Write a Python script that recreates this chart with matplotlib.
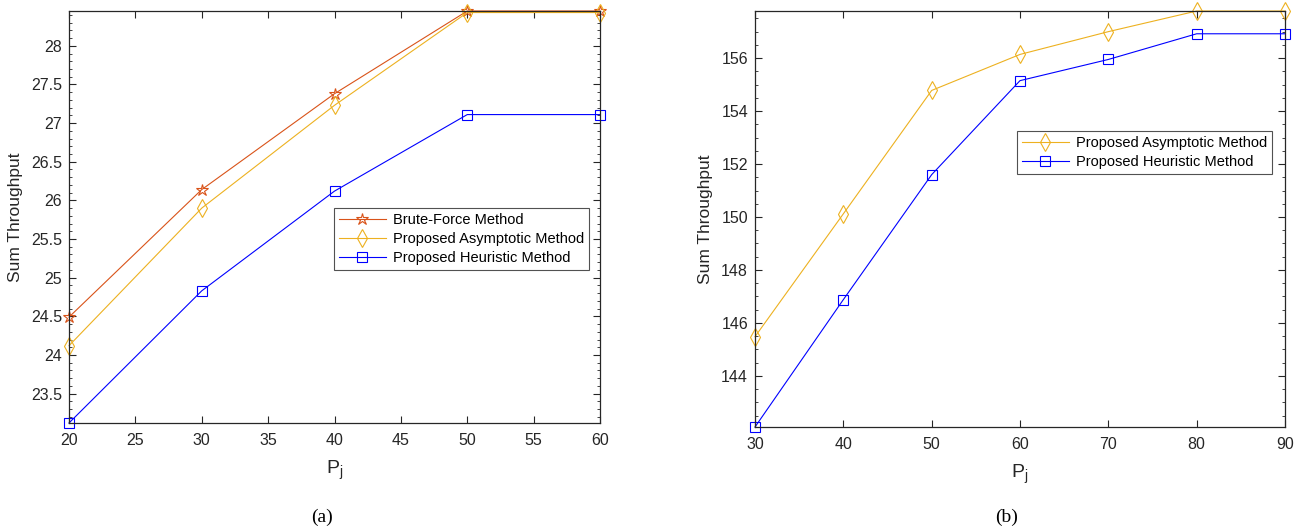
import matplotlib
matplotlib.use("Agg")
import matplotlib.pyplot as plt
from matplotlib.ticker import MultipleLocator, FormatStrFormatter

# (a) sum throughput vs P_j
pj_a = [20, 30, 40, 50, 60]
brute_a = [24.49, 26.14, 27.38, 28.45, 28.45]
asym_a = [24.12, 25.90, 27.23, 28.43, 28.43]
heur_a = [23.12, 24.83, 26.12, 27.11, 27.11]

# (b) sum throughput vs P_j
pj_b = [30, 40, 50, 60, 70, 80, 90]
asym_b = [145.48, 150.12, 154.78, 156.14, 157.00, 157.78, 157.78]
heur_b = [142.07, 146.88, 151.60, 155.15, 155.95, 156.92, 156.92]

C_BRUTE = "#D95319"
C_ASYM = "#EDB120"
C_HEUR = "#0000FF"
AX_COL = "#262626"

plt.rcParams["font.family"] = ["Liberation Sans", "DejaVu Sans"]
plt.rcParams["mathtext.fontset"] = "custom"
plt.rcParams["mathtext.rm"] = "Liberation Sans"

W, H = 1303, 529
fig = plt.figure(figsize=(W / 100, H / 100), dpi=100)


def box(l, t, r, b):
    return [l / W, 1 - b / H, (r - l) / W, (b - t) / H]


ax1 = fig.add_axes(box(69, 11, 600, 423))
ax2 = fig.add_axes(box(755, 11, 1285, 427))

style = dict(lw=0.8, mfc="none", mew=0.8, clip_on=False)

ax1.plot(pj_a, brute_a, color=C_BRUTE, marker="*", ms=9, mec=C_BRUTE,
         label="Brute-Force Method", **style)
ax1.plot(pj_a, asym_a, color=C_ASYM, marker="d", ms=9, mec=C_ASYM,
         label="Proposed Asymptotic Method", **style)
ax1.plot(pj_a, heur_a, color=C_HEUR, marker="s", ms=6.5, mec=C_HEUR,
         label="Proposed Heuristic Method", **style)

ax2.plot(pj_b, asym_b, color=C_ASYM, marker="d", ms=9, mec=C_ASYM,
         label="Proposed Asymptotic Method", **style)
ax2.plot(pj_b, heur_b, color=C_HEUR, marker="s", ms=6.5, mec=C_HEUR,
         label="Proposed Heuristic Method", **style)

ax1.set_xlim(min(pj_a), max(pj_a))
ax1.set_ylim(min(heur_a), max(brute_a))
ax1.xaxis.set_major_locator(MultipleLocator(5))
ax1.yaxis.set_major_locator(MultipleLocator(0.5))
ax1.yaxis.set_minor_locator(MultipleLocator(0.1))
ax1.yaxis.set_major_formatter(FormatStrFormatter("%g"))

ax2.set_xlim(min(pj_b), max(pj_b))
ax2.set_ylim(min(heur_b), max(asym_b))
ax2.xaxis.set_major_locator(MultipleLocator(10))
ax2.yaxis.set_major_locator(MultipleLocator(2))
ax2.yaxis.set_minor_locator(MultipleLocator(0.5))
ax2.yaxis.set_major_formatter(FormatStrFormatter("%g"))

for ax in (ax1, ax2):
    ax.tick_params(which="both", direction="in", top=True, right=True,
                   colors=AX_COL, labelsize=11.5, labelcolor=AX_COL)
    ax.tick_params(which="major", length=5, width=0.8)
    ax.tick_params(which="minor", length=2.5, width=0.6)
    ax.tick_params(axis="x", pad=7)
    ax.tick_params(axis="y", pad=5)
    for s in ax.spines.values():
        s.set_color(AX_COL)
        s.set_linewidth(0.9)
    ax.set_xlabel(r"$\mathrm{P_j}$", fontsize=14, color=AX_COL, labelpad=8)
    ax.set_ylabel("Sum Throughput", fontsize=12.5, color=AX_COL, labelpad=6)

leg_kw = dict(loc="upper left", bbox_transform=fig.transFigure, fontsize=10.5,
              frameon=True, fancybox=False, edgecolor=AX_COL, borderpad=0.35,
              labelspacing=0.35, handlelength=3.2, handletextpad=0.5,
              borderaxespad=0)
leg1 = ax1.legend(bbox_to_anchor=(334 / W, 1 - 208 / H), **leg_kw)
leg1.get_frame().set_linewidth(0.8)
leg2 = ax2.legend(bbox_to_anchor=(1017 / W, 1 - 131 / H), **leg_kw)
leg2.get_frame().set_linewidth(0.8)

fig.text(322 / W, 1 - 517 / H, "(a)", ha="center", va="center",
         fontsize=14, family=["Liberation Serif", "DejaVu Serif"])
fig.text(1007 / W, 1 - 517 / H, "(b)", ha="center", va="center",
         fontsize=14, family=["Liberation Serif", "DejaVu Serif"])

fig.savefig("out.png", dpi=100)
